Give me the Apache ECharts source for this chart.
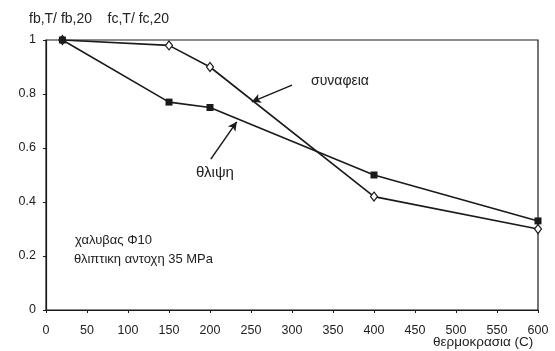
<!DOCTYPE html>
<html><head><meta charset="utf-8">
<script src="https://cdn.jsdelivr.net/npm/echarts@6/dist/echarts.min.js"></script>
<style>html,body{margin:0;padding:0;background:#fff}#c{width:555px;height:351px}</style>
</head><body><div id="c"></div>
<script>
const temperatures = [20, 150, 200, 400, 600];
const compression = [1.0, 0.77, 0.75, 0.50, 0.33];   // θλιψη
const bond = [1.0, 0.98, 0.90, 0.42, 0.30];          // συναφεια
const xTicks = [0, 50, 100, 150, 200, 250, 300, 350, 400, 450, 500, 550, 600];
const yTicks = [0, 0.2, 0.4, 0.6, 0.8, 1];

const font = 'Liberation Sans, Arial, sans-serif';
const ink = '#1a1a1a';
const chart = echarts.init(document.getElementById('c'), null, {renderer: 'canvas'});
chart.setOption({
  backgroundColor: '#fff',
  animation: false,
  grid: {left: 46, right: 17, top: 40, bottom: 41, show: true, borderColor: ink, borderWidth: 1.2, backgroundColor: 'transparent'},
  xAxis: {
    type: 'value', min: xTicks[0], max: xTicks[xTicks.length - 1], interval: 50,
    axisLine: {show: true, lineStyle: {color: ink, width: 1.2}},
    axisTick: {show: true, length: 3, lineStyle: {color: ink}},
    splitLine: {show: false},
    axisLabel: {color: '#222', fontSize: 12.5, fontFamily: font, margin: 14}
  },
  yAxis: {
    type: 'value', min: yTicks[0], max: yTicks[yTicks.length - 1], interval: 0.2,
    axisLine: {show: true, lineStyle: {color: ink, width: 1.2}},
    axisTick: {show: true, length: 3, lineStyle: {color: ink}},
    splitLine: {show: false},
    axisLabel: {color: '#222', fontSize: 12.5, fontFamily: font, margin: 10}
  },
  series: [
    {
      name: 'συναφεια', type: 'line',
      data: temperatures.map((t, i) => [t, bond[i]]),
      symbol: 'diamond', symbolSize: [7, 9],
      lineStyle: {color: ink, width: 1.6},
      itemStyle: {color: '#fff', borderColor: ink, borderWidth: 1.2},
      z: 3,
      markLine: {
        silent: true, symbol: ['none', 'arrow'], symbolSize: [7, 9],
        label: {show: false},
        lineStyle: {color: ink, width: 1.5, type: 'solid'},
        data: [[{coord: [300, 0.833]}, {coord: [251, 0.771]}]]
      }
    },
    {
      name: 'θλιψη', type: 'line',
      data: temperatures.map((t, i) => [t, compression[i]]),
      symbol: 'rect', symbolSize: 7,
      lineStyle: {color: ink, width: 1.6},
      itemStyle: {color: ink},
      z: 4,
      markLine: {
        silent: true, symbol: ['none', 'arrow'], symbolSize: [7, 9],
        label: {show: false},
        lineStyle: {color: ink, width: 1.5, type: 'solid'},
        data: [[{coord: [201, 0.559]}, {coord: [232.6, 0.697]}]]
      }
    }
  ],
  graphic: [
    {type: 'text', left: 29, top: 12, style: {text: 'fb,T/ fb,20    fc,T/ fc,20', fontSize: 14, fontFamily: font, fill: '#222'}},
    {type: 'text', left: 311, top: 74, style: {text: 'συναφεια', fontSize: 14, fontFamily: font, fill: '#222'}},
    {type: 'text', left: 196, top: 165, style: {text: 'θλιψη', fontSize: 15, fontFamily: font, fill: '#222'}},
    {type: 'text', left: 75, top: 234, style: {text: 'χαλυβας Φ10', fontSize: 13, fontFamily: font, fill: '#222'}},
    {type: 'text', left: 74, top: 253, style: {text: 'θλιπτικη αντοχη 35 MPa', fontSize: 13, fontFamily: font, fill: '#222'}},
    {type: 'text', left: 433, top: 335, style: {text: 'θερμοκρασια (C)', fontSize: 13.5, fontFamily: font, fill: '#222'}}
  ]
});
</script></body></html>
